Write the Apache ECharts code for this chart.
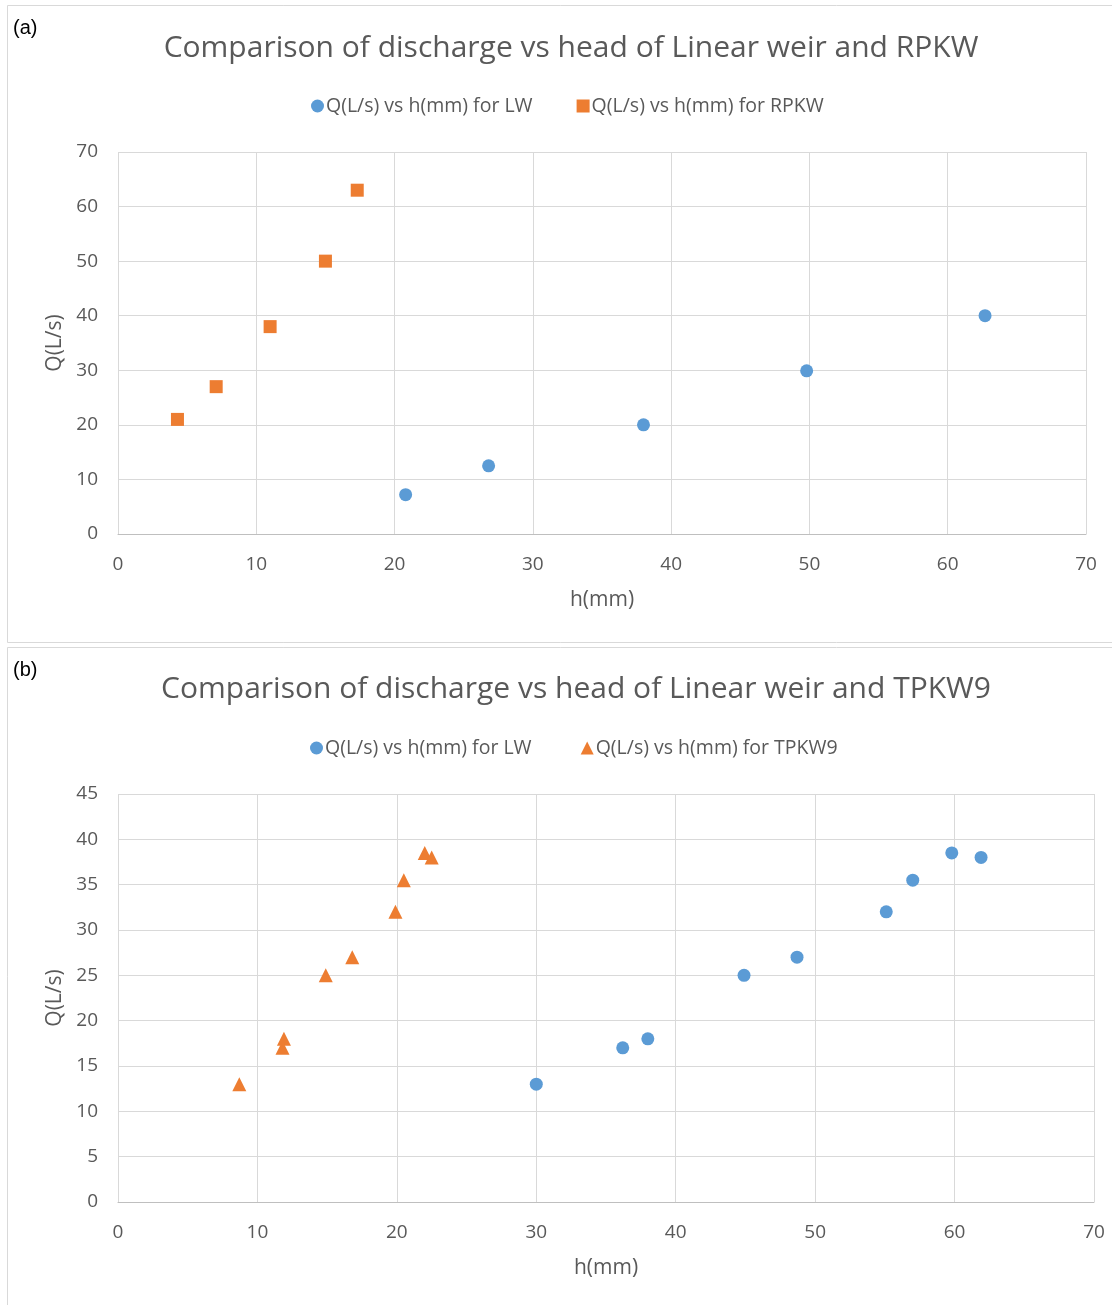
<!DOCTYPE html>
<html>
<head>
<meta charset="utf-8">
<script src="https://cdn.jsdelivr.net/npm/echarts@6/dist/echarts.min.js"></script>
<style>
html,body{margin:0;padding:0;background:#fff;}
#main{width:1112px;height:1305px;}
</style>
</head>
<body>
<div id="main"></div>
<script>
// Panel (a): Linear weir vs RPKW
const lwA_h = [20.8, 26.8, 38.0, 49.8, 62.7];
const lwA_Q = [7.2, 12.5, 20.0, 29.9, 40.0];
const rpkw_h = [4.3, 7.1, 11.0, 15.0, 17.3];
const rpkw_Q = [21.0, 27.0, 38.0, 50.0, 63.0];

// Panel (b): Linear weir vs TPKW9
const lwB_h = [30.0, 36.2, 38.0, 44.9, 48.7, 55.1, 57.0, 59.8, 61.9];
const lwB_Q = [13.0, 17.0, 18.0, 25.0, 27.0, 32.0, 35.5, 38.5, 38.0];
const tpkw_h = [8.7, 11.8, 11.9, 14.9, 16.8, 19.9, 20.5, 22.0, 22.5];
const tpkw_Q = [13.0, 17.0, 18.0, 25.0, 27.0, 32.0, 35.5, 38.5, 38.0];

const titleA = 'Comparison of discharge vs head of Linear weir and RPKW';
const titleB = 'Comparison of discharge vs head of Linear weir and TPKW9';
const nameLW = 'Q(L/s) vs h(mm) for LW';
const nameRPKW = 'Q(L/s) vs h(mm) for RPKW';
const nameTPKW = 'Q(L/s) vs h(mm) for TPKW9';

const BLUE = '#5B9BD5';
const ORANGE = '#ED7D31';
const GREY = '#595959';
const FONT = '"Open Sans", Lato, sans-serif';

function pairs(xs, ys){ return xs.map((x,i)=>[x, ys[i]]); }

function xAxisCfg(gi){
  return {
    gridIndex: gi, type: 'value', min: 0, max: 70, interval: 10,
    name: 'h(mm)', nameLocation: 'middle', nameGap: 56,
    nameTextStyle: {color: GREY, fontSize: 21, fontFamily: FONT},
    axisLine: {show: true, lineStyle: {color: '#bfbfbf', width: 1}},
    axisTick: {show: false},
    axisLabel: {color: GREY, fontSize: 19, fontFamily: FONT, margin: 21},
    splitLine: {show: true, lineStyle: {color: '#d9d9d9', width: 1}}
  };
}
function yAxisCfg(gi, max, interval){
  return {
    gridIndex: gi, type: 'value', min: 0, max: max, interval: interval,
    name: 'Q(L/s)', nameLocation: 'middle', nameGap: 52,
    nameTextStyle: {color: GREY, fontSize: 21, fontFamily: FONT},
    axisLine: {show: false},
    axisTick: {show: false},
    axisLabel: {color: GREY, fontSize: 19, fontFamily: FONT, margin: 20},
    splitLine: {show: true, lineStyle: {color: '#d9d9d9', width: 1}}
  };
}

const chart = echarts.init(document.getElementById('main'), null, {renderer: 'canvas'});
chart.setOption({
  backgroundColor: '#ffffff',
  animation: false,
  graphic: [
    {type: 'rect', shape: {x: 7.5, y: 5.5, width: 1110, height: 637}, style: {fill: '#ffffff', stroke: '#d9d9d9', lineWidth: 1}, z: -10},
    {type: 'rect', shape: {x: 7.5, y: 647.5, width: 1110, height: 660}, style: {fill: '#ffffff', stroke: '#d9d9d9', lineWidth: 1}, z: -10},
    {type: 'text', left: 13, top: 18, style: {text: '(a)', fill: '#000', fontSize: 20, fontFamily: 'Liberation Sans, Arial, sans-serif'}},
    {type: 'text', left: 13, top: 660, style: {text: '(b)', fill: '#000', fontSize: 20, fontFamily: 'Liberation Sans, Arial, sans-serif'}}
  ],
  title: [
    {text: titleA, left: 566, top: 28, textAlign: 'center', textStyle: {color: GREY, fontSize: 30, fontWeight: 'normal', fontFamily: FONT}},
    {text: titleB, left: 571, top: 669, textAlign: 'center', textStyle: {color: GREY, fontSize: 30, fontWeight: 'normal', fontFamily: FONT}}
  ],
  legend: [
    {left: 306, top: 91, itemWidth: 13, itemHeight: 13, itemGap: 44,
     textStyle: {color: GREY, fontSize: 19.5, fontFamily: FONT, padding: [0,0,0,-3]},
     data: [{name: nameLW, icon: 'circle'}, {name: nameRPKW, icon: 'rect'}]},
    {left: 305, top: 733, itemWidth: 13, itemHeight: 13, itemGap: 44,
     textStyle: {color: GREY, fontSize: 19.5, fontFamily: FONT, padding: [0,0,0,-3]},
     data: [{name: nameLW + ' ', icon: 'circle'}, {name: nameTPKW, icon: 'triangle'}]}
  ],
  grid: [
    {left: 118, top: 152, width: 968, height: 382},
    {left: 118, top: 794, width: 976, height: 408}
  ],
  xAxis: [xAxisCfg(0), xAxisCfg(1)],
  yAxis: [yAxisCfg(0, 70, 10), yAxisCfg(1, 45, 5)],
  series: [
    {name: nameLW, type: 'scatter', xAxisIndex: 0, yAxisIndex: 0, symbol: 'circle', symbolSize: 13,
     itemStyle: {color: BLUE, opacity: 1}, data: pairs(lwA_h, lwA_Q)},
    {name: nameRPKW, type: 'scatter', xAxisIndex: 0, yAxisIndex: 0, symbol: 'rect', symbolSize: 13,
     itemStyle: {color: ORANGE, opacity: 1}, data: pairs(rpkw_h, rpkw_Q)},
    {name: nameLW + ' ', type: 'scatter', xAxisIndex: 1, yAxisIndex: 1, symbol: 'circle', symbolSize: 13,
     itemStyle: {color: BLUE, opacity: 1}, data: pairs(lwB_h, lwB_Q)},
    {name: nameTPKW, type: 'scatter', xAxisIndex: 1, yAxisIndex: 1, symbol: 'triangle', symbolSize: 14,
     itemStyle: {color: ORANGE, opacity: 1}, data: pairs(tpkw_h, tpkw_Q)}
  ]
});
</script>
</body>
</html>
